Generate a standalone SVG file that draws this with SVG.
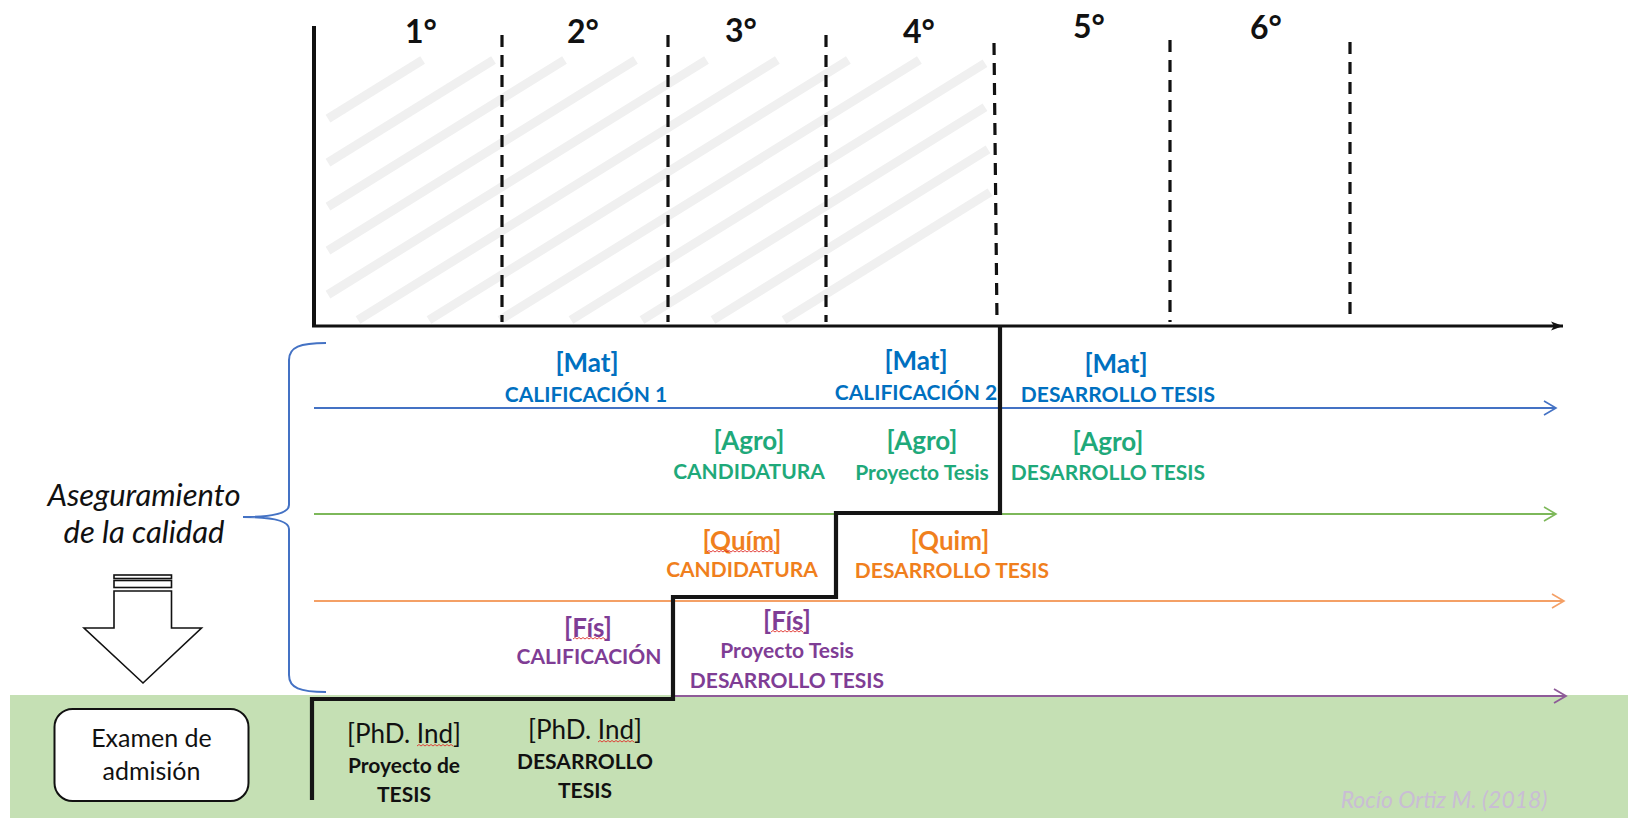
<svg xmlns="http://www.w3.org/2000/svg" width="1628" height="818" viewBox="0 0 1628 818">
  <style>
    text { font-family: Lato, "Open Sans", "Liberation Sans", sans-serif; }
    .yr { font-size: 32px; font-weight: 700; fill: #111; text-anchor: middle; }
    .tag { font-size: 26px; font-weight: 700; text-anchor: middle; }
    .lbl { font-size: 21px; font-weight: 700; text-anchor: middle; }
    .mat { fill: #0070C0; }
    .agro { fill: #1FA97A; }
    .quim { fill: #F07F1D; }
    .fis { fill: #7F3D95; }
    .ind { fill: #111; }
    .plain { font-weight: 400; }
    .hatch { stroke: #F0F0F0; stroke-width: 9; stroke-linecap: butt; }
    .dash { stroke: #111; stroke-width: 3.2; stroke-dasharray: 12 8; fill: none; }
    .lane { fill: none; stroke-width: 2; }
    .spell { fill: none; stroke: #E0302A; stroke-width: 0.9; }
  </style>
  <defs>
    <marker id="head-axis" markerUnits="userSpaceOnUse" markerWidth="14" markerHeight="12" refX="12" refY="6" orient="auto">
      <path d="M0,1.5 L12,6 L0,10.5 L3,6 Z" fill="#111"/>
    </marker>
    <marker id="head-blue" markerUnits="userSpaceOnUse" markerWidth="16" markerHeight="18" refX="13" refY="8" orient="auto">
      <path d="M1,1 L13,8 L1,15" fill="none" stroke="#4472C4" stroke-width="1.6"/>
    </marker>
    <marker id="head-green" markerUnits="userSpaceOnUse" markerWidth="16" markerHeight="18" refX="13" refY="8" orient="auto">
      <path d="M1,1 L13,8 L1,15" fill="none" stroke="#7DB85A" stroke-width="1.6"/>
    </marker>
    <marker id="head-orange" markerUnits="userSpaceOnUse" markerWidth="16" markerHeight="18" refX="13" refY="8" orient="auto">
      <path d="M1,1 L13,8 L1,15" fill="none" stroke="#F4A066" stroke-width="1.6"/>
    </marker>
    <marker id="head-purple" markerUnits="userSpaceOnUse" markerWidth="16" markerHeight="18" refX="13" refY="8" orient="auto">
      <path d="M1,1 L13,8 L1,15" fill="none" stroke="#8E5B98" stroke-width="1.8"/>
    </marker>
  </defs>

  <rect width="1628" height="818" fill="#FFFFFF"/>

  <!-- light diagonal shading over years 1-4 -->
  <g id="shading">
    <line class="hatch" x1="328" y1="118.6" x2="422.6" y2="60"/>
    <line class="hatch" x1="328" y1="162.6" x2="493.5" y2="60"/>
    <line class="hatch" x1="328" y1="206.6" x2="564.5" y2="60"/>
    <line class="hatch" x1="328" y1="250.6" x2="635.5" y2="60"/>
    <line class="hatch" x1="328" y1="294.6" x2="706.5" y2="60"/>
    <line class="hatch" x1="358" y1="320" x2="777.4" y2="60"/>
    <line class="hatch" x1="429" y1="320" x2="848.4" y2="60"/>
    <line class="hatch" x1="500" y1="320" x2="919.4" y2="60"/>
    <line class="hatch" x1="571" y1="320" x2="985" y2="63.3"/>
    <line class="hatch" x1="642" y1="320" x2="985" y2="107.3"/>
    <line class="hatch" x1="713" y1="320" x2="988" y2="149.4"/>
    <line class="hatch" x1="784" y1="320" x2="990" y2="192.3"/>
  </g>

  <!-- quality-assurance band at the bottom -->
  <rect id="band" x="10" y="695" width="1618" height="123" fill="#C5E0B4"/>

  <!-- year grid -->
  <g id="timeline">
    <line x1="314" y1="26" x2="314" y2="327" stroke="#111" stroke-width="4"/>
    <line class="dash" x1="502" y1="35" x2="502" y2="322"/>
    <line class="dash" x1="668" y1="35" x2="668" y2="322"/>
    <line class="dash" x1="826" y1="35" x2="826" y2="322"/>
    <line class="dash" x1="994" y1="43" x2="997" y2="322"/>
    <line class="dash" x1="1170" y1="40" x2="1170" y2="322"/>
    <line class="dash" x1="1350" y1="42" x2="1350" y2="322"/>
    <text class="yr" x="421" y="43">1°</text>
    <text class="yr" x="583" y="43">2°</text>
    <text class="yr" x="741" y="42">3°</text>
    <text class="yr" x="919" y="43">4°</text>
    <text class="yr" x="1089" y="38">5°</text>
    <text class="yr" x="1266" y="39">6°</text>
  </g>

  <g id="connectors">
    <line x1="312" y1="326" x2="1563" y2="326" stroke="#111" stroke-width="3" marker-end="url(#head-axis)"/>
    <line class="lane" x1="314" y1="408" x2="1556" y2="408" stroke="#4472C4" stroke-width="1.6" marker-end="url(#head-blue)"/>
    <line class="lane" x1="314" y1="514" x2="1556" y2="514" stroke="#7DB85A" marker-end="url(#head-green)"/>
    <line class="lane" x1="314" y1="601" x2="1564" y2="601" stroke="#F4A066" marker-end="url(#head-orange)"/>
    <line class="lane" x1="675" y1="696" x2="1566" y2="696" stroke="#8E5B98" stroke-width="2.6" marker-end="url(#head-purple)"/>
    <!-- staircase of programme entry points -->
    <path d="M312,800 L312,699 L673,699 L673,597 L836,597 L836,513 L1000,513 L1000,325" fill="none" stroke="#151515" stroke-width="4.2" stroke-linejoin="miter"/>
    <!-- brace -->
    <path d="M326,343 C300,343 289,347 289,360 L289,505 C289,513 275,517 243,517 C275,517 289,521 289,529 L289,675 C289,688 300,692 326,692" fill="none" stroke="#4472C4" stroke-width="2"/>
  </g>

  <g id="assurance">
    <text x="144" y="506" font-size="31" font-style="italic" fill="#111" text-anchor="middle">Aseguramiento</text>
    <text x="144" y="543" font-size="31" font-style="italic" fill="#111" text-anchor="middle">de la calidad</text>
  </g>

  <g id="down-arrow" fill="#FFFFFF" stroke="#111" stroke-width="1.6">
    <rect x="114" y="575" width="57.5" height="3.5"/>
    <rect x="114" y="580.5" width="57.5" height="7"/>
    <polygon points="114,591 171.5,591 171.5,628 201.5,628 143,683 84,628 114,628"/>
  </g>

  <g id="exam">
    <rect x="54.5" y="709" width="194" height="92" rx="18" fill="#FFFFFF" stroke="#111" stroke-width="2"/>
    <text x="151.5" y="747" font-size="25" fill="#111" text-anchor="middle">Examen de</text>
    <text x="151.5" y="780" font-size="25" fill="#111" text-anchor="middle">admisión</text>
  </g>

  <g id="mat-1">
    <text class="tag mat" x="587" y="372">[Mat]</text>
    <text class="lbl mat" x="586" y="402">CALIFICACIÓN 1</text>
  </g>
  <g id="mat-2">
    <text class="tag mat" x="916" y="370">[Mat]</text>
    <text class="lbl mat" x="916" y="400">CALIFICACIÓN 2</text>
  </g>
  <g id="mat-3">
    <text class="tag mat" x="1116" y="373">[Mat]</text>
    <text class="lbl mat" x="1118" y="402">DESARROLLO TESIS</text>
  </g>

  <g id="agro-1">
    <text class="tag agro" x="749" y="450">[Agro]</text>
    <text class="lbl agro" x="749" y="479">CANDIDATURA</text>
  </g>
  <g id="agro-2">
    <text class="tag agro" x="922" y="450">[Agro]</text>
    <text class="lbl agro" x="922" y="480">Proyecto Tesis</text>
  </g>
  <g id="agro-3">
    <text class="tag agro" x="1108" y="451">[Agro]</text>
    <text class="lbl agro" x="1108" y="480">DESARROLLO TESIS</text>
  </g>

  <g id="quim-1">
    <text class="tag quim" x="742" y="550">[Quím]</text>
    <path class="spell" d="M707,552 l2,-1.5 l2,1.5 l2,-1.5 l2,1.5 l2,-1.5 l2,1.5 l2,-1.5 l2,1.5 l2,-1.5 l2,1.5 l2,-1.5 l2,1.5 l2,-1.5 l2,1.5 l2,-1.5 l2,1.5 l2,-1.5 l2,1.5 l2,-1.5 l2,1.5 l2,-1.5 l2,1.5 l2,-1.5 l2,1.5 l2,-1.5 l2,1.5 l2,-1.5 l2,1.5 l2,-1.5 l2,1.5 l2,-1.5 l2,1.5 l2,-1.5 l2,1.5"/>
    <text class="lbl quim" x="742" y="577">CANDIDATURA</text>
  </g>
  <g id="quim-2">
    <text class="tag quim" x="950" y="550">[Quim]</text>
    <text class="lbl quim" x="952" y="578">DESARROLLO TESIS</text>
  </g>

  <g id="fis-1">
    <text class="tag fis" x="588" y="637">[Fís]</text>
    <path class="spell" d="M573,639 l2,-1.5 l2,1.5 l2,-1.5 l2,1.5 l2,-1.5 l2,1.5 l2,-1.5 l2,1.5 l2,-1.5 l2,1.5 l2,-1.5 l2,1.5 l2,-1.5 l2,1.5 l2,-1.5 l2,1.5"/>
    <text class="lbl fis" x="589" y="664">CALIFICACIÓN</text>
  </g>
  <g id="fis-2">
    <text class="tag fis" x="787" y="630">[Fís]</text>
    <path class="spell" d="M771,632 l2,-1.5 l2,1.5 l2,-1.5 l2,1.5 l2,-1.5 l2,1.5 l2,-1.5 l2,1.5 l2,-1.5 l2,1.5 l2,-1.5 l2,1.5 l2,-1.5 l2,1.5 l2,-1.5 l2,1.5"/>
    <text class="lbl fis" x="787" y="658">Proyecto Tesis</text>
    <text class="lbl fis" x="787" y="688">DESARROLLO TESIS</text>
  </g>

  <g id="phd-1">
    <text class="tag ind plain" x="404" y="743">[PhD. Ind]</text>
    <path class="spell" d="M417,746 l2,-1.5 l2,1.5 l2,-1.5 l2,1.5 l2,-1.5 l2,1.5 l2,-1.5 l2,1.5 l2,-1.5 l2,1.5 l2,-1.5 l2,1.5 l2,-1.5 l2,1.5 l2,-1.5 l2,1.5 l2,-1.5 l2,1.5"/>
    <text class="lbl ind" x="404" y="773">Proyecto de</text>
    <text class="lbl ind" x="404" y="802">TESIS</text>
  </g>
  <g id="phd-2">
    <text class="tag ind plain" x="585" y="739">[PhD. Ind]</text>
    <path class="spell" d="M598,742 l2,-1.5 l2,1.5 l2,-1.5 l2,1.5 l2,-1.5 l2,1.5 l2,-1.5 l2,1.5 l2,-1.5 l2,1.5 l2,-1.5 l2,1.5 l2,-1.5 l2,1.5 l2,-1.5 l2,1.5 l2,-1.5 l2,1.5"/>
    <text class="lbl ind" x="585" y="769">DESARROLLO</text>
    <text class="lbl ind" x="585" y="798">TESIS</text>
  </g>

  <text id="credit" x="1444" y="808" font-size="23" font-style="italic" fill="#C9BDD5" text-anchor="middle">Rocío Ortiz M. (2018)</text>
</svg>
